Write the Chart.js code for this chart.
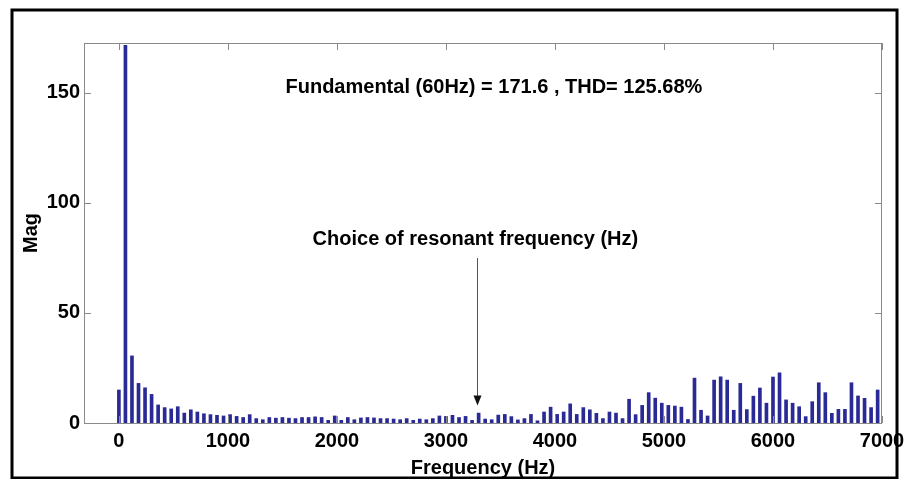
<!DOCTYPE html>
<html><head><meta charset="utf-8">
<script src="https://cdn.jsdelivr.net/npm/chart.js@4.4.1/dist/chart.umd.min.js"></script>
<style>html,body{margin:0;padding:0;background:#fff;}#wrap{width:905px;height:479px;position:relative;}</style>
</head><body><div id="wrap"><canvas id="c" width="905" height="479"></canvas></div>
<script>
// Harmonic frequencies (Hz)
const frequencies = [0,60,120,180,240,300,360,420,480,540,600,660,720,780,840,900,960,1020,1080,1140,1200,1260,1320,1380,1440,1500,1560,1620,1680,1740,1800,1860,1920,1980,2040,2100,2160,2220,2280,2340,2400,2460,2520,2580,2640,2700,2760,2820,2880,2940,3000,3060,3120,3180,3240,3300,3360,3420,3480,3540,3600,3660,3720,3780,3840,3900,3960,4020,4080,4140,4200,4260,4320,4380,4440,4500,4560,4620,4680,4740,4800,4860,4920,4980,5040,5100,5160,5220,5280,5340,5400,5460,5520,5580,5640,5700,5760,5820,5880,5940,6000,6060,6120,6180,6240,6300,6360,6420,6480,6540,6600,6660,6720,6780,6840,6900,6960];
// Magnitudes
const magnitudes = [15,171.6,30.5,18,16,13,8.2,7,6.4,7.4,4.5,6,5,4.2,3.8,3.5,3.2,3.8,3.0,2.5,3.8,2.0,1.5,2.5,2.2,2.5,2.2,2.0,2.5,2.5,2.8,2.5,1.2,3.2,1.2,2.5,1.5,2.3,2.5,2.3,2.0,2.0,1.8,1.5,2.0,1.2,1.8,1.5,2.0,3.2,3.0,3.5,2.5,3.0,1.2,4.5,1.8,1.5,3.6,3.9,2.9,1.4,2.0,3.9,1.0,5.0,7.2,3.9,5.0,8.7,3.9,7.0,6.0,4.4,2.0,5.0,4.5,2.0,10.8,3.8,8.0,13.8,11.3,9.0,8.0,7.7,7.2,1.6,20.4,5.8,3.2,19.5,21.0,19.5,5.8,18.0,6.1,12.2,15.9,9.0,20.9,22.8,10.5,9.0,7.4,2.9,9.7,18.3,13.8,4.4,6.2,6.2,18.3,12.3,11.2,7.0,15.0];
const xTickValues = [0,1000,2000,3000,4000,5000,6000,7000];
const yTickValues = [0,50,100,150];
const fundamentalLabel = 'Fundamental (60Hz) = 171.6 , THD= 125.68%';
const resonantLabel = 'Choice of resonant frequency (Hz)';
const xTitle = 'Frequency (Hz)';
const yTitle = 'Mag';

const FONT = 'Liberation Sans, Arial, Helvetica, sans-serif';
const annotations = {
  text1: {x: 3440, y: 152.7},
  text2: {x: 3270, y: 83.2},
  arrow: {x: 3285, y0: 75, y1: 8}
};

const overlay = {
  id: 'overlay',
  beforeDraw(chart) {
    const ctx = chart.ctx;
    ctx.save();
    ctx.fillStyle = '#fff';
    ctx.fillRect(0, 0, chart.width, chart.height);
    ctx.strokeStyle = '#000';
    ctx.lineWidth = 3;
    ctx.strokeRect(12, 10, 885, 468);
    ctx.restore();
  },
  afterDatasetsDraw(chart) {
    const {ctx, chartArea: a, scales: {x, y}} = chart;
    ctx.save();
    ctx.strokeStyle = '#8a8a8a';
    ctx.lineWidth = 1;
    ctx.strokeRect(a.left + 0.5, a.top + 0.5, a.right - a.left - 1, a.bottom - a.top);
    ctx.beginPath();
    xTickValues.forEach(v => {
      const px = Math.round(x.getPixelForValue(v)) + 0.5;
      ctx.moveTo(px, a.bottom); ctx.lineTo(px, a.bottom - 7);
      ctx.moveTo(px, a.top); ctx.lineTo(px, a.top + 7);
    });
    yTickValues.forEach(v => {
      const py = Math.round(y.getPixelForValue(v)) + 0.5;
      ctx.moveTo(a.left, py); ctx.lineTo(a.left + 7, py);
      ctx.moveTo(a.right, py); ctx.lineTo(a.right - 7, py);
    });
    ctx.stroke();
    ctx.fillStyle = '#000';
    ctx.font = 'bold 20px ' + FONT;
    ctx.textAlign = 'center';
    ctx.textBaseline = 'middle';
    ctx.fillText(fundamentalLabel, x.getPixelForValue(annotations.text1.x), y.getPixelForValue(annotations.text1.y));
    ctx.fillText(resonantLabel, x.getPixelForValue(annotations.text2.x), y.getPixelForValue(annotations.text2.y));
    const ax = Math.round(x.getPixelForValue(annotations.arrow.x)) + 0.5;
    const ay0 = y.getPixelForValue(annotations.arrow.y0);
    const ay1 = y.getPixelForValue(annotations.arrow.y1);
    ctx.strokeStyle = '#555';
    ctx.lineWidth = 1;
    ctx.beginPath(); ctx.moveTo(ax, ay0); ctx.lineTo(ax, ay1 - 8); ctx.stroke();
    ctx.fillStyle = '#111';
    ctx.beginPath(); ctx.moveTo(ax - 4, ay1 - 10); ctx.lineTo(ax + 4, ay1 - 10); ctx.lineTo(ax, ay1); ctx.closePath(); ctx.fill();
    ctx.restore();
  }
};

new Chart(document.getElementById('c'), {
  type: 'bar',
  data: {
    datasets: [{
      data: frequencies.map((f, i) => ({x: f, y: magnitudes[i]})),
      backgroundColor: '#2a2a96',
      borderWidth: 0,
      barThickness: 3
    }]
  },
  options: {
    responsive: false,
    animation: false,
    devicePixelRatio: 1,
    layout: {padding: {top: 43, right: 23, left: 0, bottom: 0}},
    plugins: {legend: {display: false}, tooltip: {enabled: false}},
    scales: {
      x: {
        type: 'linear', min: -320, max: 7000, offset: false,
        afterBuildTicks: s => { s.ticks = xTickValues.map(v => ({value: v})); },
        afterFit: s => { s.height = 56; },
        grid: {display: false}, border: {display: false},
        ticks: {font: {family: FONT, size: 20, weight: 'bold'}, color: '#000', padding: -2, maxRotation: 0, autoSkip: false, callback: v => String(v)},
        title: {display: true, text: xTitle, font: {family: FONT, size: 20, weight: 'bold'}, color: '#000', padding: {top: 0, bottom: -1}}
      },
      y: {
        min: 0, max: 172.7,
        afterBuildTicks: s => { s.ticks = yTickValues.map(v => ({value: v})); },
        afterFit: s => { s.width = 84; },
        grid: {display: false}, border: {display: false},
        ticks: {font: {family: FONT, size: 20, weight: 'bold'}, color: '#000', padding: -4, callback: v => String(v)},
        title: {display: true, text: yTitle, font: {family: FONT, size: 20, weight: 'bold'}, color: '#000', padding: {top: 19, bottom: 0}}
      }
    }
  },
  plugins: [overlay]
});
</script></body></html>
